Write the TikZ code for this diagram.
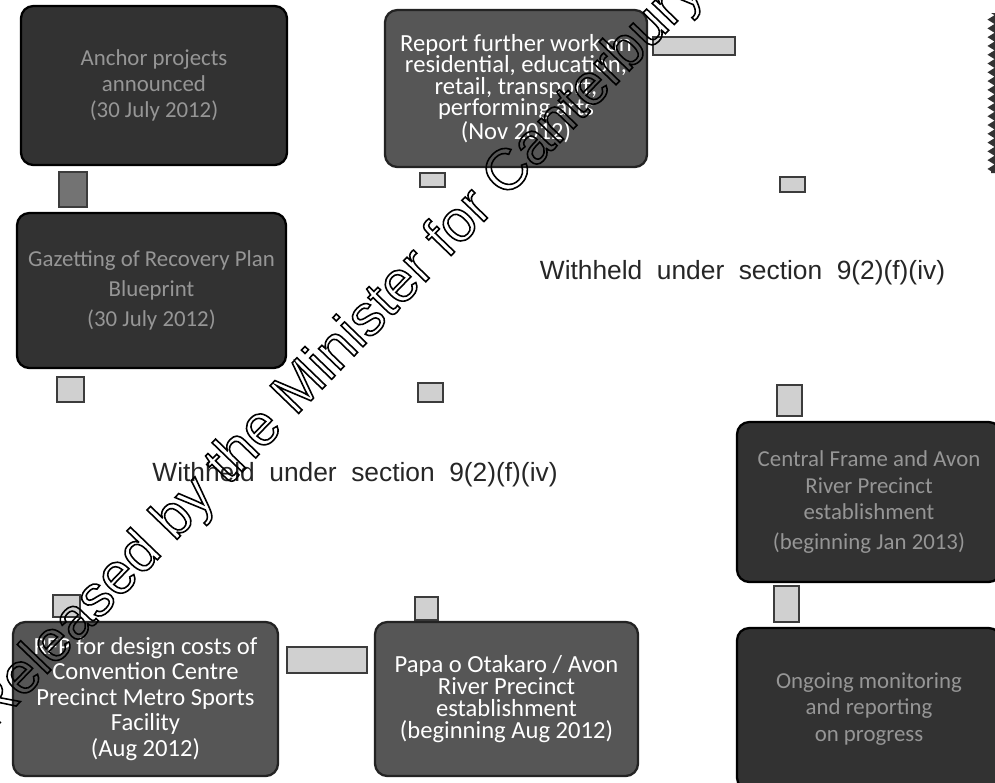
\documentclass[tikz,border=0pt]{standalone}
\usepackage{fontspec}
\setmainfont{Carlito}
\newfontfamily\arialfam{Liberation Sans}
\usetikzlibrary{decorations.pathmorphing}
\definecolor{boxfill}{RGB}{86,86,86}
\definecolor{boxline}{RGB}{35,35,35}
\definecolor{redfill}{RGB}{50,50,50}
\definecolor{redtext}{RGB}{150,150,150}
\definecolor{sqfill}{RGB}{208,208,208}
\definecolor{sqline}{RGB}{60,60,60}
\newcommand\hollowtext[1]{\special{pdf:literal direct 1 Tr 0.9 w}#1\special{pdf:literal direct 0 Tr}}
\tikzset{
  panel/.style={draw=boxline, line width=1.3pt, fill=boxfill, rounded corners=7pt,
    text=white, align=center, inner sep=0pt},
  redacted/.style={draw=black, line width=1.3pt, fill=redfill, rounded corners=7pt,
    text=redtext, align=center, inner sep=0pt},
  sq/.style={draw=sqline, line width=0.8pt, fill=sqfill, inner sep=0pt},
  sqdark/.style={draw=sqline, line width=0.8pt, fill=black!55, inner sep=0pt},
  withheld/.style={font=\arialfam\fontsize{15}{18}\selectfont, text=black!85, inner sep=0pt},
}
\begin{document}
\begin{tikzpicture}[x=0.02cm,y=-0.02cm]
\useasboundingbox (0,0) rectangle (995,782);
\fill[white] (0,0) rectangle (995,782);
\begin{scope}
\clip (0,0) rectangle (995,782);

% redacted boxes
\node[redacted, minimum width=266*0.02cm, minimum height=159*0.02cm,
  font=\fontsize{13}{15}\selectfont] (anchor) at (154,85.5)
  {Anchor projects\\announced\\(30 July 2012)};
\node[sqdark, minimum width=28*0.02cm, minimum height=35*0.02cm] (sqA) at (73,189.5) {};
\node[redacted, minimum width=269*0.02cm, minimum height=155*0.02cm,
  font=\fontsize{13}{17}\selectfont] (gazette) at (151.5,290.5)
  {Gazetting of Recovery Plan\\Blueprint\\(30 July 2012)};
\node[sq, minimum width=27*0.02cm, minimum height=25*0.02cm] (sqB) at (70.5,389.5) {};

% top middle
\node[panel, minimum width=262*0.02cm, minimum height=157*0.02cm,
  font=\fontsize{14}{12.2}\selectfont] (report) at (516,88.5)
  {Report further work on\\residential, education,\\retail, transport,\\performing arts\\(Nov 2012)};
\node[sq, minimum width=82*0.02cm, minimum height=18*0.02cm] (sqC1) at (694,46) {};
\node[sq, minimum width=25*0.02cm, minimum height=14*0.02cm] (sqC2) at (432.5,180) {};
\node[sq, minimum width=25*0.02cm, minimum height=15*0.02cm] (sqD) at (792.5,184.5) {};

% right edge torn shape
\fill[black!80, decoration={zigzag, segment length=5pt, amplitude=2pt}]
  decorate {(991,13) -- (991,173)} -- (1000,173) -- (1000,13) -- cycle;

\node[withheld] (w1) at (742.5,273)
  {Withheld\hspace{0.55em}under\hspace{0.55em}section\hspace{0.55em}9(2)(f)(iv)};
\node[sq, minimum width=25*0.02cm, minimum height=19*0.02cm] (sqM) at (430.5,392.5) {};
\node[withheld] (w2) at (355,475)
  {Withheld\hspace{0.55em}under\hspace{0.55em}section\hspace{0.55em}9(2)(f)(iv)};

% right column
\node[sq, minimum width=25*0.02cm, minimum height=31*0.02cm] (sqE) at (789.5,400.5) {};
\node[redacted, minimum width=264*0.02cm, minimum height=160*0.02cm,
  font=\fontsize{13}{15}\selectfont] (frame) at (869,502)
  {Central Frame and Avon\\River Precinct\\establishment\\[2pt](beginning Jan 2013)};
\node[sq, minimum width=25*0.02cm, minimum height=36*0.02cm] (sqF) at (786.5,604) {};
\node[redacted, minimum width=264*0.02cm, minimum height=162*0.02cm,
  font=\fontsize{13}{15}\selectfont] (monitor) at (869,709)
  {Ongoing monitoring\\and reporting\\on progress};

% bottom row
\node[sq, minimum width=27*0.02cm, minimum height=22*0.02cm] (sqG) at (66.5,606) {};
\node[panel, minimum width=265*0.02cm, minimum height=154*0.02cm,
  font=\fontsize{14}{14.5}\selectfont] (rfp) at (145.5,699)
  {RFP for design costs of\\Convention Centre\\Precinct Metro Sports\\Facility\\(Aug 2012)};
\node[sq, minimum width=80*0.02cm, minimum height=26*0.02cm] (sqH) at (327,660) {};
\node[sq, minimum width=23*0.02cm, minimum height=23*0.02cm] (sqI) at (426.5,608.5) {};
\node[panel, minimum width=263*0.02cm, minimum height=154*0.02cm,
  font=\fontsize{14}{12.5}\selectfont] (papa) at (506.5,699)
  {Papa o Otakaro / Avon\\River Precinct\\establishment\\(beginning Aug 2012)};

% watermark (outlined letters)
\node[rotate=46, anchor=base west, inner sep=0pt, text=black,
  font=\arialfam\fontsize{33}{33}\selectfont] (wm) at (-7,730)
  {\hollowtext{Released by the Minister for Canterbury Earthquake Recovery}};
\end{scope}
\end{tikzpicture}
\end{document}
